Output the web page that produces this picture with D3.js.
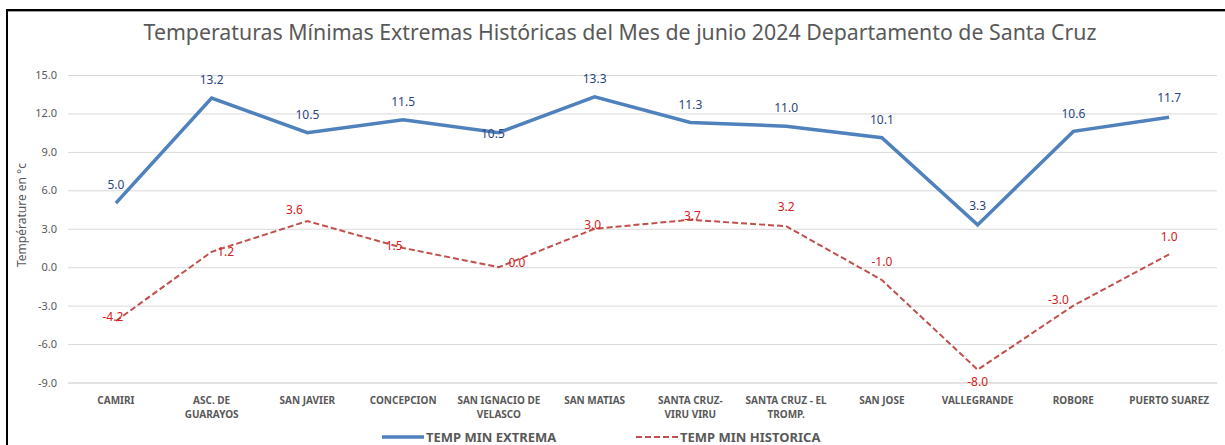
<!DOCTYPE html>
<html>
<head>
<meta charset="utf-8">
<script src="https://cdn.jsdelivr.net/npm/d3@7"></script>
<style>
  html, body { margin: 0; padding: 0; background: #fff; }
  svg { display: block; }
  text { font-family: "Noto Sans", "Open Sans", sans-serif; }
</style>
</head>
<body>
<svg id="chart" width="1225" height="445"></svg>
<script>
// ---- data ----
const categories = ["CAMIRI", "ASC. DE\nGUARAYOS", "SAN JAVIER", "CONCEPCION", "SAN IGNACIO DE\nVELASCO",
  "SAN MATIAS", "SANTA CRUZ-\nVIRU VIRU", "SANTA CRUZ - EL\nTROMP.", "SAN JOSE", "VALLEGRANDE", "ROBORE", "PUERTO SUAREZ"];
const tempMinExtrema = [5.0, 13.2, 10.5, 11.5, 10.5, 13.3, 11.3, 11.0, 10.1, 3.3, 10.6, 11.7];
const tempMinHistorica = [-4.2, 1.2, 3.6, 1.5, 0.0, 3.0, 3.7, 3.2, -1.0, -8.0, -3.0, 1.0];
const yTicks = [-9, -6, -3, 0, 3, 6, 9, 12, 15];
const seriesNames = ["TEMP MIN EXTREMA", "TEMP MIN HISTORICA"];
const titleText = "Temperaturas Mínimas Extremas Históricas del Mes de junio 2024 Departamento de Santa Cruz";
const yAxisTitle = "Température en °c";

// label placement (styling, not data)
const blueLabelOffsets = [[0,-18],[0,-18],[0,-18],[0,-18],[-6,1],[0,-18],[0,-18],[0,-18],[0,-18],[0,-19],[0,-18],[0,-19]];
const redLabelOffsets = [[-3,-4],[14,0],[-13,-11],[-9,-2],[18,-4],[-2,-4],[2,-4],[0,-19],[0,-18],[0,12],[-15,-6],[0,-18]];

const fmt = d3.formatLocale({decimal: ".", thousands: ",", grouping: [3], currency: ["", ""], minus: "-"}).format(".1f");

const svg = d3.select("#chart");
const grey = "#595959";
const blue = "#4f81bd", red = "#c0504d";

// frame
svg.append("path").attr("d", "M7,445V10H1225").attr("fill", "none").attr("stroke", "#000").attr("stroke-width", 2);
svg.append("line").attr("x1", 8).attr("x2", 1225).attr("y1", 11.5).attr("y2", 11.5).attr("stroke", "#a0a0a0").attr("stroke-width", 1);

const x = d3.scaleBand().domain(categories).range([68, 1217]);
const y = d3.scaleLinear().domain([-9, 15]).range([382.5, 75]);
const cx = c => x(c) + x.bandwidth() / 2;

// title
svg.append("text").attr("x", 620).attr("y", 40).attr("text-anchor", "middle")
  .attr("font-size", 21.3).attr("fill", grey).text(titleText);

// y axis with gridlines
const yAxis = svg.append("g").attr("transform", "translate(68,0)")
  .call(d3.axisLeft(y).tickValues(yTicks).tickFormat(fmt).tickSize(-(1217 - 68)).tickPadding(11));
yAxis.select(".domain").remove();
yAxis.selectAll(".tick line").attr("stroke", "#d9d9d9").attr("stroke-width", 1);
yAxis.selectAll(".tick text").attr("font-size", 11).attr("fill", grey).attr("font-family", "Noto Sans");

// y axis title
svg.append("text").attr("transform", "translate(26,215) rotate(-90)").attr("text-anchor", "middle")
  .attr("font-size", 12).attr("fill", grey).text(yAxisTitle);

// x axis
const xAxis = svg.append("g").attr("transform", "translate(0,382.5)")
  .call(d3.axisBottom(x).tickSize(0).tickFormat(""));
xAxis.select(".domain").attr("stroke", "#d9d9d9");
xAxis.selectAll(".tick").each(function(d) {
  const t = d3.select(this).append("text").attr("fill", grey).attr("font-size", 10)
    .attr("font-weight", "bold").attr("text-anchor", "middle").attr("font-family", "Noto Sans");
  d.split("\n").forEach((line, i) => {
    t.append("tspan").attr("x", 0).attr("y", 21 + i * 14).text(line);
  });
});

// lines
const lineGen = vals => d3.line().x((d, i) => cx(categories[i])).y(d => y(d))(vals);
svg.append("path").attr("d", lineGen(tempMinHistorica)).attr("fill", "none")
  .attr("stroke", red).attr("stroke-width", 2).attr("stroke-dasharray", "6,3");
svg.append("path").attr("d", lineGen(tempMinExtrema)).attr("fill", "none")
  .attr("stroke", blue).attr("stroke-width", 3.5).attr("stroke-linejoin", "miter");

// labels
svg.append("g").selectAll("text").data(tempMinExtrema).join("text")
  .attr("x", (d, i) => cx(categories[i]) + blueLabelOffsets[i][0])
  .attr("y", (d, i) => y(d) + blueLabelOffsets[i][1])
  .attr("dy", "0.35em").attr("text-anchor", "middle").attr("font-size", 12).attr("fill", "#2a4480")
  .text(d => fmt(d));
svg.append("g").selectAll("text").data(tempMinHistorica).join("text")
  .attr("x", (d, i) => cx(categories[i]) + redLabelOffsets[i][0])
  .attr("y", (d, i) => y(d) + redLabelOffsets[i][1])
  .attr("dy", "0.35em").attr("text-anchor", "middle").attr("font-size", 12).attr("fill", "#d42020")
  .text(d => fmt(d));

// legend
const lg = svg.append("g");
lg.append("line").attr("x1", 382).attr("x2", 424).attr("y1", 437).attr("y2", 437).attr("stroke", blue).attr("stroke-width", 3.5);
lg.append("text").attr("x", 426).attr("y", 437).attr("dy", "0.35em").attr("font-size", 13).attr("font-weight", "bold")
  .attr("fill", grey).text(seriesNames[0]);
lg.append("line").attr("x1", 636).attr("x2", 678).attr("y1", 437).attr("y2", 437).attr("stroke", red)
  .attr("stroke-width", 2).attr("stroke-dasharray", "6,3");
lg.append("text").attr("x", 680).attr("y", 437).attr("dy", "0.35em").attr("font-size", 13).attr("font-weight", "bold")
  .attr("fill", grey).text(seriesNames[1]);
</script>
</body>
</html>
